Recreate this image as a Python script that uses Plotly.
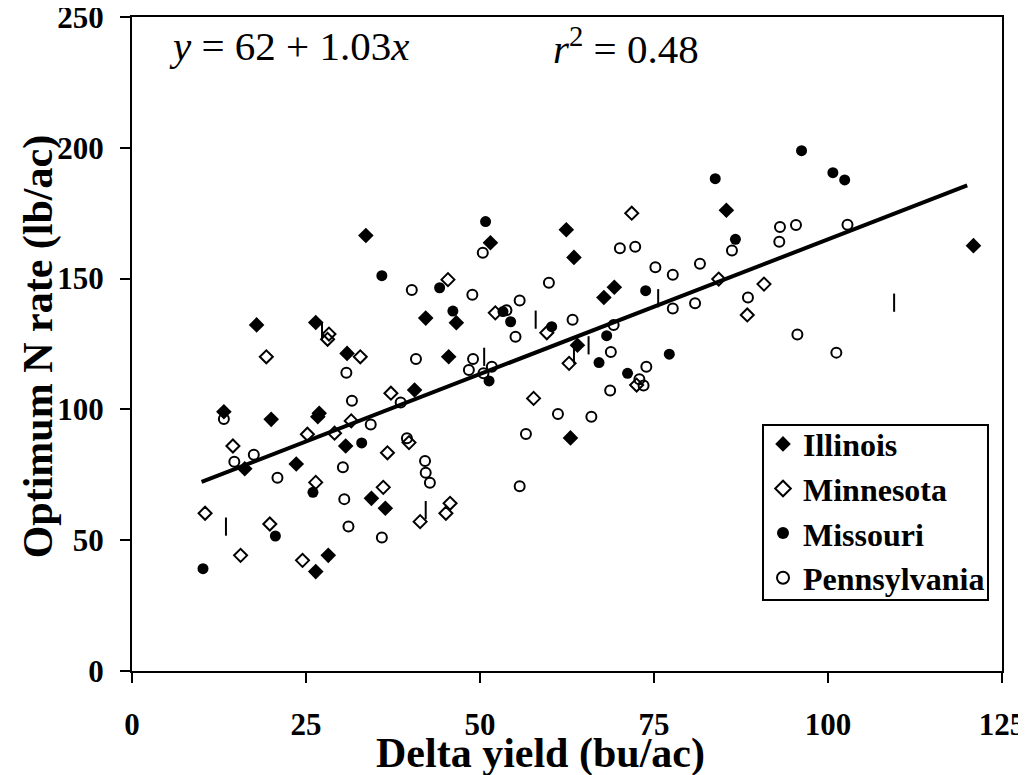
import plotly.graph_objects as go

# ---- data ----
illinois_x = [33.6, 17.9, 26.4, 51.5, 62.4, 63.5, 42.2, 46.6, 69.3, 67.8, 85.4, 120.9, 30.9, 13.2,
              20.0, 26.9, 26.7, 30.7, 16.2, 23.6, 34.4, 28.2, 26.4, 45.5, 40.6, 64.0, 63.0, 36.4]
illinois_y = [166.5, 132.3, 133.2, 163.7, 168.7, 158.1, 134.9, 133.1, 146.7, 142.8, 176.1, 162.6, 121.4, 99.1,
              96.2, 98.5, 97.2, 86.0, 77.3, 79.1, 66.0, 44.2, 38.0, 120.1, 107.4, 124.5, 89.1, 62.2]

minnesota_x = [45.4, 52.2, 71.8, 84.3, 90.8, 88.4, 28.3, 28.1, 19.3, 32.8, 31.5, 25.2, 29.1, 14.5, 26.4,
               10.5, 19.8, 15.6, 24.5, 59.6, 62.8, 37.2, 57.7, 39.8, 36.7, 36.1, 45.7, 45.1, 41.4, 72.5]
minnesota_y = [149.6, 136.9, 175.0, 149.8, 147.9, 136.1, 128.8, 126.8, 120.1, 120.1, 95.6, 90.5, 90.9, 86.0, 72.1,
               60.3, 56.2, 44.2, 42.3, 129.3, 117.6, 106.2, 104.2, 87.3, 83.4, 70.2, 64.1, 60.3, 57.1, 109.3]

missouri_x = [35.9, 50.8, 44.2, 46.1, 54.4, 53.3, 60.3, 96.2, 100.7, 102.4, 83.8, 86.7, 73.8, 33.0,
              26.0, 20.6, 10.2, 68.2, 67.1, 51.3, 77.2, 71.2]
missouri_y = [151.1, 171.8, 146.5, 137.6, 133.5, 137.4, 131.6, 198.9, 190.5, 187.7, 188.2, 165.0, 145.4, 87.2,
              68.3, 51.6, 39.1, 128.2, 117.9, 110.9, 121.1, 113.8]

pennsylvania_x = [50.4, 70.1, 40.2, 48.9, 59.9, 55.7, 53.8, 63.3, 93.1, 95.4, 102.8, 93.0, 86.2, 72.3,
                  75.2, 77.7, 81.6, 88.5, 77.7, 80.9, 69.2, 30.8, 31.6, 13.2, 34.3, 14.7, 17.5, 20.9,
                  30.3, 30.5, 31.1, 35.9, 55.1, 68.8, 68.7, 40.8, 49.0, 48.4, 50.5, 51.7, 38.6, 61.2,
                  66.0, 56.6, 39.5, 42.1, 42.2, 42.8, 55.7, 95.6, 101.2, 73.9, 72.9, 73.5]
pennsylvania_y = [159.9, 161.6, 145.6, 143.8, 148.4, 141.6, 137.9, 134.3, 169.7, 170.5, 170.6, 164.1, 160.7, 162.2,
                  154.3, 151.5, 155.7, 142.8, 138.6, 140.6, 132.3, 114.0, 103.3, 96.3, 94.2, 80.0, 82.7, 73.9,
                  77.9, 65.7, 55.2, 51.0, 127.8, 121.9, 107.2, 119.3, 119.3, 115.1, 113.8, 116.3, 102.6, 98.2,
                  97.2, 90.6, 89.0, 80.3, 75.8, 72.0, 70.6, 128.6, 121.7, 116.3, 111.5, 109.1]

# stray vertical tick-like marks visible in the picture
stray_x = [27.3, 58.0, 65.6, 63.5, 75.6, 109.5, 50.6, 42.2, 13.5]
stray_y = [130.0, 134.3, 124.5, 121.0, 142.5, 140.8, 120.1, 61.5, 55.2]

# regression line end points
fit_x = [10, 120]
fit_y = [72.3, 185.6]

x_ticks = [0, 25, 50, 75, 100, 125]
y_ticks = [0, 50, 100, 150, 200, 250]

SERIF = "Liberation Serif"

fig = go.Figure()

fig.add_trace(go.Scatter(x=fit_x, y=fit_y, mode="lines", line=dict(color="black", width=4),
                         showlegend=False, hoverinfo="skip"))

fig.add_trace(go.Scatter(x=stray_x, y=stray_y, mode="markers", showlegend=False,
                         marker=dict(symbol="line-ns", size=13, line=dict(color="black", width=2))))

fig.add_trace(go.Scatter(x=illinois_x, y=illinois_y, mode="markers", name="Illinois",
                         marker=dict(symbol="diamond", size=12, color="black", line=dict(width=0))))
fig.add_trace(go.Scatter(x=minnesota_x, y=minnesota_y, mode="markers", name="Minnesota",
                         marker=dict(symbol="diamond-open", size=10, color="black", line=dict(color="black", width=2))))
fig.add_trace(go.Scatter(x=missouri_x, y=missouri_y, mode="markers", name="Missouri",
                         marker=dict(symbol="circle", size=11, color="black", line=dict(width=0))))
fig.add_trace(go.Scatter(x=pennsylvania_x, y=pennsylvania_y, mode="markers", name="Pennsylvania",
                         marker=dict(symbol="circle-open", size=10, color="black", line=dict(color="black", width=2))))

tick_font = dict(family=SERIF, size=31, color="black", weight="bold")

# the page body has an 8px margin, so the figure is sized/margined to put the plot at the reference spot
fig.update_layout(
    width=1018, height=767,
    margin=dict(l=124, r=24, t=9, b=104, autoexpand=False),
    paper_bgcolor="white", plot_bgcolor="white",
    font=dict(family=SERIF, color="black", size=20),
    showlegend=True,
    legend=dict(x=0.7253, y=0.389, xanchor="left", yanchor="top",
                borderwidth=0, bgcolor="rgba(0,0,0,0)",
                font=dict(family=SERIF, size=32, color="black", weight="bold"),
                itemsizing="constant", itemwidth=30),
    shapes=[dict(type="rect", xref="paper", yref="paper", x0=0.7253, x1=0.9839, y0=0.1086, y1=0.3761,
                 line=dict(color="black", width=2), fillcolor="rgba(0,0,0,0)", layer="above")],
    xaxis=dict(range=[0, 125], tickvals=x_ticks, ticktext=["<b>%d</b>" % v for v in x_ticks],
               automargin=False, ticklabeloverflow="allow",
               showgrid=False, zeroline=False, showline=True, linecolor="black", linewidth=2,
               mirror=True, ticks="outside", ticklen=10, tickwidth=2, tickcolor="black",
               ticklabelstandoff=15, tickfont=tick_font),
    yaxis=dict(range=[0, 250], tickvals=y_ticks, ticktext=["<b>%d</b>" % v for v in y_ticks],
               automargin=False, ticklabeloverflow="allow",
               showgrid=False, zeroline=False, showline=True, linecolor="black", linewidth=2,
               mirror=True, ticks="outside", ticklen=10, tickwidth=2, tickcolor="black",
               ticklabelstandoff=10, tickfont=tick_font),
    annotations=[
        dict(text="<i>y</i> = 62 + 1.03<i>x</i>", xref="paper", yref="paper", x=0.040, y=0.955,
             xanchor="left", yanchor="middle", showarrow=False,
             font=dict(family=SERIF, size=41, color="black")),
        dict(text="<i>r</i><sup>2</sup> = 0.48", xref="paper", yref="paper", x=0.482, y=0.955,
             xanchor="left", yanchor="middle", showarrow=False,
             font=dict(family=SERIF, size=41, color="black")),
        dict(text="<b>Delta yield (bu/ac)</b>", xref="paper", yref="paper", x=0.470, y=-0.126,
             xanchor="center", yanchor="middle", showarrow=False,
             font=dict(family=SERIF, size=42, color="black")),
        dict(text="<b>Optimum N rate (lb/ac)</b>", xref="paper", yref="paper", x=-0.108, y=0.495,
             xanchor="center", yanchor="middle", showarrow=False, textangle=-90,
             font=dict(family=SERIF, size=42, color="black")),
    ],
)

fig.write_html("out.html")
